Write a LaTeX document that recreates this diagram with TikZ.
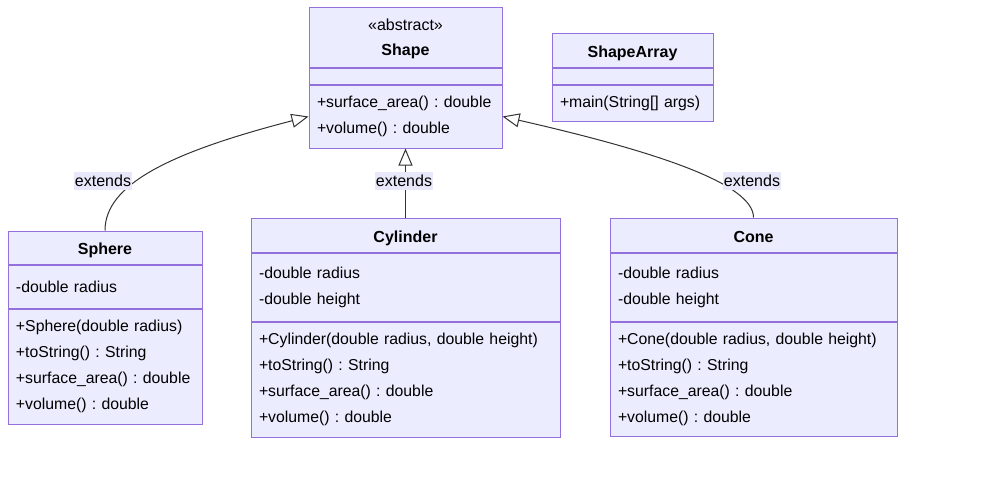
\documentclass[tikz,border=0pt]{standalone}
\usepackage{xcolor}
\usepackage{fontspec}
\setmainfont{Liberation Sans}
\usetikzlibrary{arrows.meta, positioning}
\definecolor{umlfill}{HTML}{ECECFF}
\definecolor{umlline}{HTML}{9370DB}
\definecolor{umlarrow}{HTML}{333333}
\definecolor{umllabel}{HTML}{E8E8FA}
\tikzstyle{inherit} = [draw=umlarrow, line width=1pt, -{Triangle[open, length=17pt, width=14pt, fill=white]}]
\tikzset{
	classbase/.style={rectangle, draw=umlline, fill=umlfill, line width=1pt, inner sep=0pt, align=center, font=\fontsize{16pt}{25pt}\selectfont},
	classhead/.style={classbase, text height=14.5pt, text depth=0pt},
	classpart/.style={rectangle, draw=umlline, fill=umlfill, line width=1pt, inner xsep=8pt, inner ysep=0pt, align=left,
		font=\fontsize{15.8pt}{26pt}\selectfont, execute at begin node={\frenchspacing\hyphenpenalty=10000\exhyphenpenalty=10000\relax}},
	edgelabel/.style={fill=umllabel, inner xsep=1pt, inner ysep=0pt, minimum height=18pt, font=\fontsize{16pt}{20pt}\selectfont}
}

\begin{document}
\begin{tikzpicture}[x=1pt, y=-1pt]
		\useasboundingbox[fill=white] (0,0) rectangle (983,483);
		
		% Classes (title, attributes, methods stacked)
		\node (shapeT) [classbase, text height=40pt, text depth=2.5pt, minimum width=193pt, minimum height=60pt] at (405.5,37) {«abstract»\\\textbf{Shape}};
		\node (shapeA) [classpart, minimum width=193pt, text width=177pt, minimum height=16pt, below=0pt of shapeT] {};
		\node (shapeM) [classpart, minimum width=193pt, text width=177pt, minimum height=63pt, below=0pt of shapeA] {+surface\_area() : double\\+volume() : double};
		
		\node (arrT) [classhead, minimum width=161pt, minimum height=34pt] at (632.5,50) {\textbf{ShapeArray}};
		\node (arrA) [classpart, minimum width=161pt, text width=145pt, minimum height=16pt, below=0pt of arrT] {};
		\node (arrM) [classpart, minimum width=161pt, text width=145pt, minimum height=36pt, below=0pt of arrA] {+main(String[] args)};
		
		\node (sphT) [classhead, minimum width=194pt, minimum height=33pt] at (105,247.5) {\textbf{Sphere}};
		\node (sphA) [classpart, minimum width=194pt, text width=178pt, minimum height=43pt, below=0pt of sphT] {-double radius};
		\node (sphM) [classpart, minimum width=194pt, text width=178pt, minimum height=115pt, below=0pt of sphA] {+Sphere(double radius)\\+toString() : String\\+surface\_area() : double\\+volume() : double};
		
		\node (cylT) [classhead, minimum width=309pt, minimum height=34pt] at (405.5,235) {\textbf{Cylinder}};
		\node (cylA) [classpart, minimum width=309pt, text width=293pt, minimum height=68pt, below=0pt of cylT] {-double radius\\-double height};
		\node (cylM) [classpart, minimum width=309pt, text width=293pt, minimum height=115pt, below=0pt of cylA] {+Cylinder(double radius, double height)\\+toString() : String\\+surface\_area() : double\\+volume() : double};
		
		\node (coneT) [classhead, minimum width=287pt, minimum height=34pt] at (753.5,235) {\textbf{Cone}};
		\node (coneA) [classpart, minimum width=287pt, text width=271pt, minimum height=68pt, below=0pt of coneT] {-double radius\\-double height};
		\node (coneM) [classpart, minimum width=287pt, text width=271pt, minimum height=114pt, below=0pt of coneA] {+Cone(double radius, double height)\\+toString() : String\\+surface\_area() : double\\+volume() : double};
		
		% Inheritance arrows
		\draw [inherit] (sphT.north) .. controls +(0,-46) and +(-139,36) .. (shapeM.west);
		\draw [inherit] (cylT.north) -- (shapeM.south);
		\draw [inherit] (coneT.north) .. controls +(0,-33) and +(158,36) .. (shapeM.east);
		
		% Labels on the arrows
		\node (extSph) [edgelabel] at (103,181) {extends};
		\node (extCyl) [edgelabel] at (404,181) {extends};
		\node (extCone) [edgelabel] at (752,181) {extends};
		
	\end{tikzpicture}
\end{document}
